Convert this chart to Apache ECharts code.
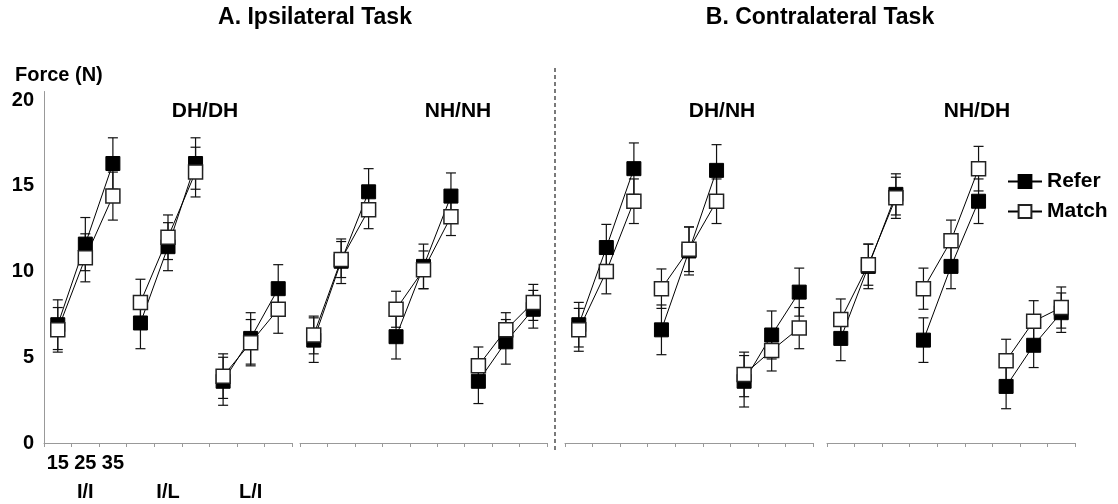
<!DOCTYPE html>
<html>
<head>
<meta charset="utf-8">
<script src="https://cdn.jsdelivr.net/npm/echarts@6/dist/echarts.min.js"></script>
<style>
  html, body { margin: 0; padding: 0; background: #fff; }
  #main { width: 1118px; height: 504px; }
</style>
</head>
<body>
<div id="main"></div>
<script>
// 数据：各面板 Refer / Match 平均值与误差
var forces = ['15', '25', '35'];
var conds = ['I/I', 'I/L', 'L/I'];
var panelNames = ['DH/DH', 'NH/NH', 'DH/NH', 'NH/DH'];
var yTicks = [0, 5, 10, 15, 20];

var referDHDH = [6.9, 11.6, 16.3, 7.0, 11.45, 16.3, 3.6, 6.1, 9.0];
var referErrDHDH = [1.45, 1.55, 1.5, 1.5, 1.4, 1.5, 1.4, 1.5, 1.4];
var matchDHDH = [6.6, 10.8, 14.4, 8.2, 12.0, 15.8, 3.9, 5.85, 7.8];
var matchErrDHDH = [1.3, 1.4, 1.4, 1.35, 1.3, 1.45, 1.3, 1.35, 1.4];

var referNHNH = [6.0, 10.6, 14.65, 6.2, 10.3, 14.4, 3.6, 5.9, 7.8];
var referErrNHNH = [1.3, 1.3, 1.35, 1.3, 1.3, 1.35, 1.3, 1.3, 1.1];
var matchNHNH = [6.3, 10.7, 13.6, 7.8, 10.1, 13.2, 4.5, 6.6, 8.2];
var matchErrNHNH = [1.1, 1.05, 1.1, 1.05, 1.1, 1.1, 1.1, 1.0, 1.05];

var referDHNH = [6.9, 11.4, 16.0, 6.6, 11.2, 15.9, 3.6, 6.3, 8.8];
var referErrDHNH = [1.3, 1.35, 1.5, 1.45, 1.4, 1.5, 1.5, 1.4, 1.4];
var matchDHNH = [6.6, 10.0, 14.1, 9.0, 11.3, 14.1, 4.0, 5.4, 6.7];
var matchErrDHNH = [1.25, 1.3, 1.3, 1.15, 1.3, 1.3, 1.3, 1.2, 1.2];

var referNHDH = [6.1, 10.3, 14.5, 6.0, 10.3, 14.1, 3.3, 5.7, 7.6];
var referErrNHDH = [1.3, 1.3, 1.2, 1.3, 1.3, 1.3, 1.3, 1.3, 1.15];
var matchNHDH = [7.2, 10.4, 14.3, 9.0, 11.8, 16.0, 4.8, 7.1, 7.9];
var matchErrNHDH = [1.2, 1.2, 1.2, 1.2, 1.2, 1.3, 1.25, 1.2, 1.2];

var referAll = [referDHDH, referNHNH, referDHNH, referNHDH];
var referErrAll = [referErrDHDH, referErrNHNH, referErrDHNH, referErrNHDH];
var matchAll = [matchDHDH, matchNHNH, matchDHNH, matchNHDH];
var matchErrAll = [matchErrDHDH, matchErrNHNH, matchErrDHNH, matchErrNHDH];

var FONT = '"Liberation Sans", Arial, sans-serif';

// 9 个类目：条件 × 力
var cats = [];
conds.forEach(function (c) {
    forces.forEach(function (f) { cats.push(c + ' ' + f); });
});

var myChart = echarts.init(document.getElementById('main'));

var gridLeft = [44, 300, 565, 827];
var gridWidth = [248, 247, 248, 248];

var grids = [], xAxes = [], yAxes = [], series = [];

// 误差线：竖线 + 上下横帽
function renderErr(params, api) {
    var x = api.value(0), v = api.value(1), e = api.value(2);
    var hi = api.coord([x, v + e]);
    var lo = api.coord([x, v - e]);
    var w = 5;
    var st = { stroke: '#111', lineWidth: 1.2 };
    return {
        type: 'group',
        children: [
            { type: 'line', shape: { x1: hi[0], y1: hi[1], x2: lo[0], y2: lo[1] }, style: st },
            { type: 'line', shape: { x1: hi[0] - w, y1: hi[1], x2: hi[0] + w, y2: hi[1] }, style: st },
            { type: 'line', shape: { x1: lo[0] - w, y1: lo[1], x2: lo[0] + w, y2: lo[1] }, style: st }
        ]
    };
}

for (var p = 0; p < 4; p++) {
    grids.push({ left: gridLeft[p], width: gridWidth[p], top: 91.5, bottom: 61 });
    xAxes.push({
        type: 'category',
        gridIndex: p,
        data: cats,
        boundaryGap: true,
        axisLine: { lineStyle: { color: '#999', width: 1 } },
        axisTick: { show: true, length: 4, lineStyle: { color: '#999' } },
        axisLabel: {
            show: p === 0,
            interval: 0,
            margin: 10,
            color: '#000',
            fontFamily: FONT,
            fontWeight: 'bold',
            fontSize: 20,
            formatter: function (val, idx) { return idx < 3 ? forces[idx] : ''; }
        }
    });
    yAxes.push({
        type: 'value',
        gridIndex: p,
        min: 0,
        max: 20.5,
        interval: 5,
        show: p === 0,
        splitLine: { show: false },
        axisLine: { show: true, lineStyle: { color: '#999' } },
        axisTick: { show: false },
        axisLabel: {
            margin: 10,
            color: '#000',
            fontFamily: FONT,
            fontWeight: 'bold',
            fontSize: 20,
            formatter: function (v) { return yTicks.indexOf(v) >= 0 ? String(v) : ''; }
        }
    });

    var errData = [];
    for (var i = 0; i < 9; i++) {
        errData.push([i, referAll[p][i], referErrAll[p][i]]);
        errData.push([i, matchAll[p][i], matchErrAll[p][i]]);
    }
    series.push({
        type: 'custom',
        xAxisIndex: p,
        yAxisIndex: p,
        data: errData,
        renderItem: renderErr,
        encode: { x: 0, y: 1 },
        z: 1,
        silent: true
    });

    // 每组三个点连线，组与组之间不连
    for (var g = 0; g < 3; g++) {
        var rd = [], md = [];
        for (var k = 0; k < 3; k++) {
            var idx = g * 3 + k;
            rd.push([idx, referAll[p][idx]]);
            md.push([idx, matchAll[p][idx]]);
        }
        series.push({
            name: 'Refer',
            type: 'line',
            xAxisIndex: p,
            yAxisIndex: p,
            data: rd,
            symbol: 'rect',
            symbolSize: 14,
            showAllSymbol: true,
            lineStyle: { color: '#000', width: 1 },
            itemStyle: { color: '#000', borderColor: '#000', borderWidth: 1 },
            z: 2
        });
        series.push({
            name: 'Match',
            type: 'line',
            xAxisIndex: p,
            yAxisIndex: p,
            data: md,
            symbol: 'rect',
            symbolSize: 14,
            showAllSymbol: true,
            lineStyle: { color: '#000', width: 1 },
            itemStyle: { color: '#fff', borderColor: '#222', borderWidth: 1.5 },
            z: 3
        });
    }
}

// 第一面板下方的条件标签
xAxes.push({
    type: 'category',
    gridIndex: 0,
    data: conds,
    position: 'bottom',
    offset: 28,
    axisLine: { show: false },
    axisTick: { show: false },
    axisLabel: {
        interval: 0,
        margin: 11,
        color: '#000',
        fontFamily: FONT,
        fontWeight: 'bold',
        fontSize: 20
    }
});

var panelCenters = [205, 458, 722, 977];
var graphics = [
    { type: 'text', style: { text: 'A. Ipsilateral Task', x: 315, y: 18, fill: '#000', font: 'bold 23px ' + FONT, textAlign: 'center', textVerticalAlign: 'middle' } },
    { type: 'text', style: { text: 'B. Contralateral Task', x: 820, y: 18, fill: '#000', font: 'bold 23px ' + FONT, textAlign: 'center', textVerticalAlign: 'middle' } },
    { type: 'text', style: { text: 'Force (N)', x: 15, y: 75, fill: '#000', font: 'bold 20px ' + FONT, textAlign: 'left', textVerticalAlign: 'middle' } },
    { type: 'line', shape: { x1: 555, y1: 68, x2: 555, y2: 452 }, style: { stroke: '#222', lineWidth: 1.2, lineDash: [4, 3] } }
];
panelNames.forEach(function (n, i) {
    graphics.push({ type: 'text', style: { text: n, x: panelCenters[i], y: 111, fill: '#000', font: 'bold 21px ' + FONT, textAlign: 'center', textVerticalAlign: 'middle' } });
});

var option = {
    animation: false,
    backgroundColor: '#fff',
    grid: grids,
    xAxis: xAxes,
    yAxis: yAxes,
    legend: {
        data: ['Refer', 'Match'],
        orient: 'vertical',
        left: 1002,
        top: 166,
        itemWidth: 34,
        itemHeight: 16,
        itemGap: 9,
        selectedMode: false,
        textStyle: { color: '#000', fontFamily: FONT, fontWeight: 'bold', fontSize: 21 }
    },
    graphic: graphics,
    series: series
};

myChart.setOption(option, true);
</script>
</body>
</html>
